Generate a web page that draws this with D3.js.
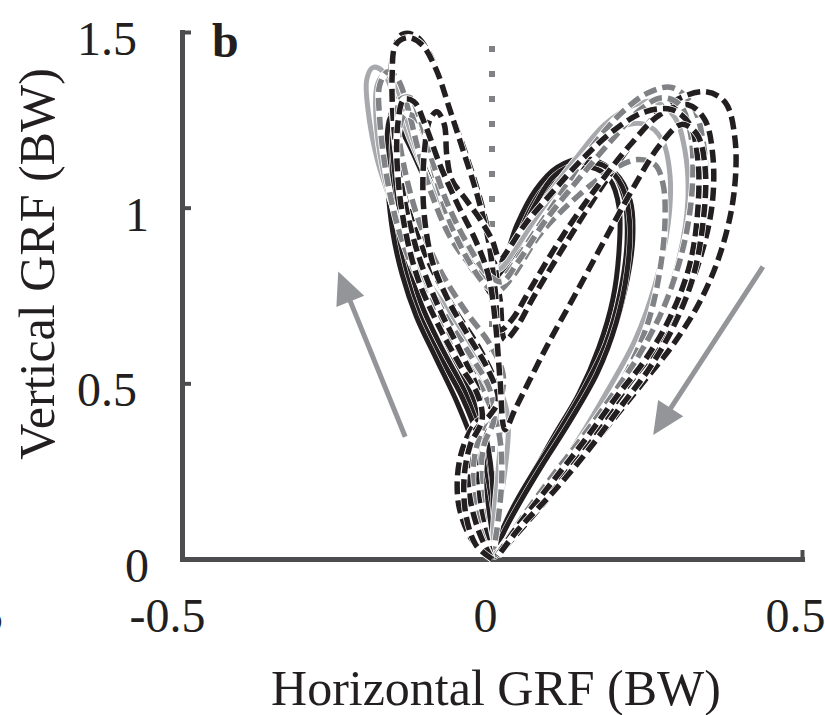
<!DOCTYPE html>
<html>
<head>
<meta charset="utf-8">
<script src="https://cdn.jsdelivr.net/npm/d3@7"></script>
<style>
  body { margin: 0; background: #fff; }
  svg { display: block; }
</style>
</head>
<body>
<svg id="chart" width="825" height="715"></svg>
<script>
// axis setup
const xTicks = [-0.5, 0, 0.5];
const xTickLabels = ["-0.5", "0", "0.5"];
const yTicks = [0, 0.5, 1, 1.5];
const yTickLabels = ["0", "0.5", "1", "1.5"];

// reference line at zero horizontal force and the two direction arrows
const zeroLine = [[0, 0], [0, 1.46]];
const arrowUp = [[-0.140, 0.348], [-0.248, 0.818]];
const arrowDown = [[0.437, 0.832], [0.260, 0.353]];

// trials: [horizontal GRF, vertical GRF] in BW
const solidBlack1 = [[0,0],[-0.003,0.17],[-0.016,0.34],[-0.042,0.47],[-0.081,0.60],[-0.113,0.72],[-0.135,0.84],[-0.153,0.95],[-0.163,1.08],[-0.166,1.22],[-0.158,1.285],[-0.132,1.21],[-0.10,1.05],[-0.06,0.91],[-0.023,0.81],[0,0.77],[0.021,0.82],[0.045,0.94],[0.077,1.045],[0.113,1.11],[0.158,1.13],[0.198,1.10],[0.223,1.02],[0.227,0.91],[0.215,0.77],[0.19,0.62],[0.158,0.50],[0.113,0.37],[0.073,0.25],[0.042,0.17],[0.018,0.08],[0.003,0.01]];
const solidBlack2 = [[0,0],[-0.005,0.16],[-0.02,0.33],[-0.048,0.46],[-0.085,0.58],[-0.118,0.70],[-0.14,0.82],[-0.155,0.94],[-0.16,1.06],[-0.158,1.18],[-0.148,1.23],[-0.125,1.16],[-0.09,1.02],[-0.05,0.89],[-0.015,0.79],[0.003,0.75],[0.025,0.80],[0.05,0.92],[0.085,1.04],[0.12,1.10],[0.16,1.115],[0.19,1.08],[0.205,1.0],[0.205,0.88],[0.195,0.74],[0.172,0.60],[0.14,0.47],[0.10,0.35],[0.065,0.24],[0.035,0.15],[0.015,0.07],[0.002,0.01]];
const solidBlack3 = [[0,0],[0.002,0.18],[-0.01,0.35],[-0.035,0.48],[-0.072,0.61],[-0.105,0.74],[-0.13,0.86],[-0.148,0.98],[-0.157,1.10],[-0.16,1.20],[-0.15,1.25],[-0.128,1.19],[-0.095,1.06],[-0.055,0.93],[-0.02,0.83],[-0.002,0.79],[0.018,0.84],[0.04,0.95],[0.07,1.05],[0.105,1.115],[0.15,1.14],[0.19,1.11],[0.213,1.03],[0.218,0.91],[0.207,0.76],[0.183,0.61],[0.15,0.49],[0.107,0.36],[0.068,0.25],[0.038,0.16],[0.016,0.08],[0.002,0.01]];
const solidBlack4 = [[0,0],[-0.008,0.15],[-0.025,0.30],[-0.055,0.44],[-0.09,0.57],[-0.122,0.69],[-0.145,0.81],[-0.16,0.93],[-0.168,1.06],[-0.17,1.19],[-0.162,1.26],[-0.14,1.20],[-0.105,1.07],[-0.065,0.93],[-0.03,0.82],[-0.005,0.78],[0.015,0.81],[0.04,0.90],[0.07,1.01],[0.10,1.09],[0.14,1.125],[0.18,1.12],[0.21,1.06],[0.222,0.96],[0.218,0.82],[0.20,0.67],[0.17,0.53],[0.125,0.39],[0.082,0.27],[0.048,0.17],[0.02,0.08],[0.003,0.01]];

const solidGray1 = [[0,0],[0.008,0.111],[0.021,0.254],[0.026,0.396],[0.013,0.481],[-0.019,0.567],[-0.06,0.681],[-0.10,0.781],[-0.132,0.88],[-0.161,1.008],[-0.185,1.137],[-0.20,1.279],[-0.202,1.365],[-0.192,1.399],[-0.176,1.388],[-0.156,1.308],[-0.132,1.194],[-0.103,1.080],[-0.068,0.966],[-0.032,0.866],[0,0.809],[0.021,0.852],[0.048,0.923],[0.085,1.023],[0.134,1.137],[0.182,1.237],[0.231,1.293],[0.263,1.302],[0.295,1.256],[0.311,1.165],[0.316,1.023],[0.303,0.866],[0.274,0.709],[0.231,0.567],[0.182,0.425],[0.129,0.288],[0.077,0.168],[0.029,0.068],[0.003,0.006]];
const solidGray2 = [[0,0],[0.003,0.111],[0.01,0.254],[0.013,0.368],[0,0.453],[-0.027,0.538],[-0.068,0.652],[-0.103,0.766],[-0.132,0.866],[-0.156,0.980],[-0.176,1.108],[-0.187,1.251],[-0.185,1.350],[-0.173,1.379],[-0.156,1.350],[-0.140,1.265],[-0.116,1.137],[-0.084,1.008],[-0.048,0.909],[-0.011,0.838],[0.01,0.823],[0.037,0.880],[0.069,0.966],[0.110,1.066],[0.158,1.165],[0.206,1.228],[0.247,1.237],[0.274,1.194],[0.287,1.094],[0.284,0.952],[0.263,0.781],[0.231,0.624],[0.187,0.481],[0.139,0.339],[0.090,0.211],[0.042,0.088],[0.01,0.017]];

const dashGray1 = [[0,0],[0.01,0.111],[0.016,0.254],[0.01,0.368],[-0.011,0.467],[-0.044,0.567],[-0.084,0.681],[-0.119,0.795],[-0.148,0.923],[-0.169,1.080],[-0.181,1.251],[-0.181,1.350],[-0.168,1.387],[-0.152,1.365],[-0.135,1.279],[-0.119,1.165],[-0.097,1.037],[-0.065,0.909],[-0.027,0.823],[0.005,0.781],[0.029,0.823],[0.061,0.909],[0.11,1.037],[0.158,1.165],[0.206,1.265],[0.252,1.327],[0.29,1.342],[0.323,1.293],[0.34,1.194],[0.345,1.051],[0.335,0.894],[0.306,0.738],[0.263,0.601],[0.219,0.496],[0.166,0.368],[0.110,0.231],[0.045,0.097],[0.01,0.011]];
const dashGray2 = [[0,0],[-0.01,0.083],[-0.018,0.211],[-0.013,0.325],[0.003,0.396],[-0.003,0.481],[-0.035,0.581],[-0.076,0.695],[-0.108,0.809],[-0.132,0.937],[-0.147,1.080],[-0.152,1.194],[-0.14,1.265],[-0.123,1.256],[-0.106,1.188],[-0.090,1.080],[-0.068,0.960],[-0.039,0.852],[-0.011,0.781],[0.008,0.761],[0.032,0.801],[0.077,0.923],[0.139,1.034],[0.194,1.108],[0.235,1.137],[0.263,1.122],[0.276,1.066],[0.279,0.960],[0.271,0.823],[0.252,0.675],[0.219,0.538],[0.174,0.410],[0.126,0.288],[0.077,0.168],[0.032,0.066],[0.003,0.009]];
const dashGray3 = [[0,0],[-0.016,0.068],[-0.029,0.168],[-0.029,0.282],[-0.013,0.381],[0.013,0.453],[0.018,0.524],[-0.003,0.610],[-0.044,0.709],[-0.084,0.823],[-0.116,0.952],[-0.139,1.094],[-0.152,1.237],[-0.148,1.308],[-0.132,1.313],[-0.116,1.251],[-0.097,1.137],[-0.071,1.008],[-0.039,0.895],[-0.006,0.809],[0.016,0.789],[0.042,0.846],[0.085,0.960],[0.139,1.080],[0.194,1.194],[0.239,1.279],[0.274,1.313],[0.303,1.293],[0.319,1.222],[0.324,1.094],[0.313,0.923],[0.282,0.738],[0.242,0.595],[0.198,0.476],[0.145,0.345],[0.090,0.219],[0.037,0.088],[0.008,0.011]];

const dashBlack1 = [[0,0],[-0.032,0.054],[-0.052,0.140],[-0.056,0.225],[-0.048,0.311],[-0.029,0.382],[-0.003,0.425],[0.005,0.496],[-0.019,0.595],[-0.060,0.709],[-0.10,0.838],[-0.132,0.980],[-0.153,1.137],[-0.161,1.308],[-0.160,1.436],[-0.145,1.493],[-0.124,1.490],[-0.103,1.445],[-0.084,1.365],[-0.065,1.265],[-0.042,1.151],[-0.019,1.023],[0,0.880],[0.013,0.738],[0.021,0.624],[0.037,0.652],[0.069,0.752],[0.118,0.895],[0.174,1.051],[0.231,1.194],[0.284,1.293],[0.343,1.330],[0.376,1.300],[0.392,1.194],[0.390,1.037],[0.370,0.880],[0.337,0.738],[0.292,0.610],[0.247,0.510],[0.182,0.368],[0.118,0.231],[0.053,0.097],[0.013,0.02],[0.003,0.006]];
const dashBlack2 = [[0,0],[-0.011,0.083],[-0.023,0.197],[-0.026,0.311],[-0.016,0.396],[-0.023,0.481],[-0.048,0.581],[-0.084,0.709],[-0.119,0.866],[-0.143,1.037],[-0.158,1.222],[-0.161,1.379],[-0.155,1.464],[-0.135,1.484],[-0.113,1.464],[-0.090,1.393],[-0.068,1.279],[-0.047,1.165],[-0.024,1.037],[-0.006,0.909],[0.005,0.766],[0.013,0.652],[0.032,0.681],[0.061,0.766],[0.110,0.909],[0.166,1.051],[0.223,1.179],[0.271,1.265],[0.316,1.293],[0.343,1.251],[0.356,1.151],[0.355,1.008],[0.335,0.852],[0.303,0.709],[0.263,0.595],[0.223,0.504],[0.166,0.362],[0.106,0.225],[0.045,0.091],[0.01,0.011]];
const dashBlack3 = [[0,0],[-0.019,0.068],[-0.035,0.168],[-0.039,0.282],[-0.026,0.368],[-0.003,0.410],[0.01,0.453],[-0.006,0.538],[-0.039,0.638],[-0.071,0.738],[-0.097,0.852],[-0.110,0.994],[-0.110,1.137],[-0.100,1.251],[-0.089,1.273],[-0.077,1.237],[-0.073,1.151],[-0.065,1.080],[-0.042,1.023],[-0.019,0.966],[0,0.909],[0.013,0.852],[0.026,0.880],[0.053,0.952],[0.094,1.037],[0.145,1.137],[0.198,1.222],[0.247,1.273],[0.290,1.279],[0.319,1.237],[0.332,1.137],[0.332,0.994],[0.319,0.838],[0.287,0.687],[0.247,0.567],[0.203,0.467],[0.15,0.339],[0.097,0.219],[0.039,0.088],[0.008,0.009]];
const dashBlack4 = [[0,0],[-0.026,0.040],[-0.042,0.125],[-0.045,0.231],[-0.035,0.325],[-0.016,0.396],[-0.023,0.467],[-0.052,0.553],[-0.087,0.667],[-0.119,0.795],[-0.140,0.937],[-0.152,1.094],[-0.152,1.237],[-0.142,1.308],[-0.126,1.302],[-0.108,1.237],[-0.084,1.122],[-0.055,1.008],[-0.027,0.909],[-0.006,0.809],[0.005,0.681],[0.013,0.510],[0.021,0.368],[0.037,0.425],[0.061,0.510],[0.094,0.624],[0.134,0.752],[0.182,0.909],[0.231,1.066],[0.271,1.179],[0.306,1.237],[0.331,1.208],[0.344,1.108],[0.340,0.952],[0.323,0.795],[0.290,0.652],[0.252,0.538],[0.210,0.439],[0.158,0.316],[0.102,0.197],[0.042,0.083],[0.01,0.009]];

const styles = {
  blackSolid: { color: "#231f20", width: 5,   halo: 1,   dash: null },
  graySolid:  { color: "#a7a9ac", width: 5,   halo: 1.5, dash: null },
  grayDash:   { color: "#808285", width: 5.5, halo: 1.5, dash: "13,6" },
  blackDash:  { color: "#231f20", width: 5.5, halo: 1.5, dash: "13,6" }
};

const trials = [
  { pts: solidBlack1, style: "blackSolid" },
  { pts: solidBlack2, style: "blackSolid" },
  { pts: solidBlack3, style: "blackSolid" },
  { pts: solidBlack4, style: "blackSolid" },
  { pts: solidGray1, style: "graySolid" },
  { pts: solidGray2, style: "graySolid" },
  { pts: dashGray1, style: "grayDash" },
  { pts: dashBlack1, style: "blackDash" },
  { pts: dashGray2, style: "grayDash" },
  { pts: dashBlack2, style: "blackDash" },
  { pts: dashGray3, style: "grayDash" },
  { pts: dashBlack3, style: "blackDash" },
  { pts: dashBlack4, style: "blackDash" }
];

const svg = d3.select("#chart");
const font = "'Liberation Serif', 'Times New Roman', serif";
const axisColor = "#4d4d4f";
const textColor = "#231f20";

const x = d3.scaleLinear().domain([-0.5, 0.5]).range([182, 802]);
const y = d3.scaleLinear().domain([0, 1.5]).range([559, 32]);

// y axis, ticks pointing inward
const yAxis = svg.append("g")
  .attr("transform", `translate(${x(-0.5)},0)`)
  .call(d3.axisLeft(y).tickValues(yTicks).tickFormat((d, i) => yTickLabels[i])
    .tickSizeInner(-9).tickSizeOuter(0).tickPadding(45))
  .attr("font-family", font)
  .attr("font-size", 48);
yAxis.select(".domain").attr("stroke", axisColor).attr("stroke-width", 5).attr("stroke-linecap", "square");
yAxis.selectAll(".tick line").attr("stroke", axisColor).attr("stroke-width", 4);
yAxis.selectAll(".tick text")
  .attr("fill", textColor)
  .attr("dy", "0.47em")
  .attr("text-anchor", (d, i) => yTickLabels[i].length > 1 ? "end" : "middle");

// x axis
const xAxis = svg.append("g")
  .attr("transform", `translate(0,${y(0)})`)
  .call(d3.axisBottom(x).tickValues(xTicks).tickFormat((d, i) => xTickLabels[i])
    .tickSizeInner(-9).tickSizeOuter(0))
  .attr("font-family", font)
  .attr("font-size", 48);
xAxis.select(".domain").attr("stroke", axisColor).attr("stroke-width", 5).attr("stroke-linecap", "square");
xAxis.selectAll(".tick line").attr("stroke", axisColor).attr("stroke-width", 4);
xAxis.selectAll(".tick text")
  .attr("fill", textColor)
  .attr("y", 73)
  .attr("dy", 0)
  .attr("dx", d => d < 0 ? -15 : -7);

// clipped label from the neighbouring panel
svg.append("text")
  .attr("x", 3).attr("y", 632)
  .attr("text-anchor", "end")
  .attr("font-family", font).attr("font-size", 48).attr("fill", textColor)
  .text("0.5");

// axis titles
svg.append("text")
  .attr("x", 496).attr("y", 705)
  .attr("text-anchor", "middle")
  .attr("font-family", font).attr("font-size", 50).attr("fill", textColor)
  .text("Horizontal GRF (BW)");
svg.append("text")
  .attr("transform", "translate(54,264) rotate(-90)")
  .attr("text-anchor", "middle")
  .attr("font-family", font).attr("font-size", 50).attr("fill", textColor)
  .text("Vertical GRF (BW)");

// panel letter
svg.append("text")
  .attr("x", 212).attr("y", 57)
  .attr("font-family", font).attr("font-size", 48).attr("font-weight", "bold").attr("fill", textColor)
  .text("b");

// dotted zero line
svg.append("path")
  .datum(zeroLine.slice().reverse())
  .attr("fill", "none")
  .attr("stroke", "#808285")
  .attr("stroke-width", 6)
  .attr("stroke-dasharray", "6,19")
  .attr("d", d3.line().x(d => x(d[0])).y(d => y(d[1])));

// trials
const line = d3.line()
  .x(d => x(d[0]))
  .y(d => y(d[1]))
  .curve(d3.curveCatmullRom.alpha(0.5));

const g = svg.append("g");
trials.forEach(t => {
  const s = styles[t.style];
  g.append("path")
    .datum(t.pts)
    .attr("fill", "none")
    .attr("stroke", "#fff")
    .attr("stroke-width", s.width + s.halo)
    .attr("stroke-linejoin", "round")
    .attr("d", line);
  g.append("path")
    .datum(t.pts)
    .attr("fill", "none")
    .attr("stroke", s.color)
    .attr("stroke-width", s.width)
    .attr("stroke-dasharray", s.dash)
    .attr("stroke-linejoin", "round")
    .attr("d", line);
});

// arrows
function drawArrow(a) {
  const p0 = [x(a[0][0]), y(a[0][1])];
  const p1 = [x(a[1][0]), y(a[1][1])];
  const dx = p1[0] - p0[0], dy = p1[1] - p0[1];
  const len = Math.hypot(dx, dy);
  const u = [dx / len, dy / len];
  const n = [-u[1], u[0]];
  const headLen = 32, headHalf = 15;
  const base = [p1[0] - u[0] * headLen, p1[1] - u[1] * headLen];
  svg.append("line")
    .attr("x1", p0[0]).attr("y1", p0[1])
    .attr("x2", base[0] + u[0] * 2).attr("y2", base[1] + u[1] * 2)
    .attr("stroke", "#939598").attr("stroke-width", 5);
  svg.append("polygon")
    .attr("points", [p1, [base[0] + n[0] * headHalf, base[1] + n[1] * headHalf],
                         [base[0] - n[0] * headHalf, base[1] - n[1] * headHalf]].map(p => p.join(",")).join(" "))
    .attr("fill", "#939598");
}
drawArrow(arrowUp);
drawArrow(arrowDown);
</script>
</body>
</html>
